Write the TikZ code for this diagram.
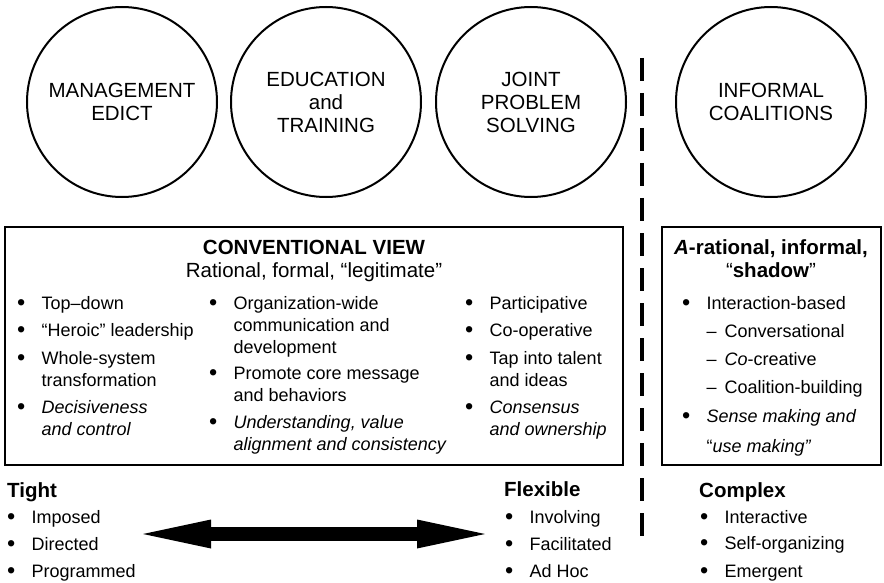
\documentclass[tikz,border=0pt]{standalone}
\usepackage{fontspec}
\setmainfont{Liberation Sans}
\usetikzlibrary{arrows.meta}

\newcommand{\bodyfont}{\fontsize{18}{22}\selectfont}
\newcommand{\headfont}{\fontsize{20.5}{23}\selectfont}
\newcommand{\bul}{\raisebox{-1.2pt}{\scalebox{1.3}{\textbullet}}}
\newcommand{\subdash}{\makebox[18pt][l]{--}}
% bullet list: bullet column + text column
\newenvironment{blist}{\begin{tabular}[t]{@{}p{24.5pt}@{}l@{}}}{\end{tabular}}

\begin{document}
\begin{tikzpicture}
[x=1pt, y=-1pt,
  circ/.style={circle, draw, line width=2pt, minimum size=190pt, inner sep=0pt, align=center, font=\headfont},
  frame/.style={draw, line width=1.3pt, inner sep=0pt},
  head/.style={anchor=base, inner sep=0pt, font=\headfont\bfseries},
  sub/.style={anchor=base, inner sep=0pt, font=\headfont},
  lst/.style={anchor=base west, inner sep=0pt, font=\bodyfont},
  lhead/.style={anchor=base west, inner sep=0pt, font=\headfont\bfseries},
  sep/.style={line width=4.5pt, dash pattern=on 23pt off 12pt},
  twoway/.style={line width=14pt,
    {Triangle[length=68pt,width=29pt,line width=0pt]}-{Triangle[length=68pt,width=29pt,line width=0pt]}}]
  \useasboundingbox (0,0) rectangle (884,583);

  % approaches
  \node[circ] (edict) at (122,102) {MANAGEMENT\\EDICT};
  \node[circ] (educ) at (326,102) {EDUCATION\\and\\TRAINING};
  \node[circ] (joint) at (531,102) {JOINT\\PROBLEM\\SOLVING};
  \node[circ] (coal) at (771,102) {INFORMAL\\COALITIONS};

  % divider
  \coordinate (sepTop) at (642,58);
  \coordinate (sepBot) at (642,540);
  \draw[sep] (sepTop) -- (sepBot);

  % conventional view
  \node[frame, minimum width=618pt, minimum height=238pt] (conv) at (314,346) {};
  \node[head] (convT) at (314,254) {CONVENTIONAL VIEW};
  \node[sub] (convS) at (314,277) {Rational, formal, “legitimate”};
  \node[lst] (colA) at (17,309) {\begin{blist}
    \bul & Top--down\\[5.5pt]
    \bul & “Heroic” leadership\\[5.5pt]
    \bul & Whole-system\\
         & transformation\\[5.5pt]
    \bul & \textit{Decisiveness}\\
         & \textit{and control}
  \end{blist}};
  \node[lst] (colB) at (209,309) {\begin{blist}
    \bul & Organization-wide\\
         & communication and\\
         & development\\[4pt]
    \bul & Promote core message\\
         & and behaviors\\[5.5pt]
    \bul & \textit{Understanding, value}\\
         & \textit{alignment and consistency}
  \end{blist}};
  \node[lst] (colC) at (465,309) {\begin{blist}
    \bul & Participative\\[5.5pt]
    \bul & Co-operative\\[5.5pt]
    \bul & Tap into talent\\
         & and ideas\\[5.5pt]
    \bul & \textit{Consensus}\\
         & \textit{and ownership}
  \end{blist}};

  % shadow view
  \node[frame, minimum width=219pt, minimum height=238pt] (shad) at (771.5,346) {};
  \node[head] (shadT) at (771,254) {\textit{A}-rational, informal,};
  \node[sub] (shadS) at (771,277) {“\textbf{shadow}”};
  \node[lst] (colD) at (682,309) {\begin{blist}
    \bul & Interaction-based\\[6pt]
         & \subdash Conversational\\[6pt]
         & \subdash\textit{Co}-creative\\[6.5pt]
         & \subdash Coalition-building\\[7pt]
    \bul & \textit{Sense making and}\\[8pt]
         & “\textit{use making”}
  \end{blist}};

  % spectrum
  \node[lhead] (tight) at (7,497) {Tight};
  \node[lst] (tightL) at (7,523) {\begin{blist}
    \bul & Imposed\\[5pt]
    \bul & Directed\\[5.5pt]
    \bul & Programmed
  \end{blist}};
  \node[lhead] (flex) at (504,496) {Flexible};
  \node[lst] (flexL) at (505,523) {\begin{blist}
    \bul & Involving\\[5pt]
    \bul & Facilitated\\[5.5pt]
    \bul & Ad Hoc
  \end{blist}};
  \node[lhead] (cplx) at (699,497) {Complex};
  \node[lst] (cplxL) at (700,523) {\begin{blist}
    \bul & Interactive\\[4.5pt]
    \bul & Self-organizing\\[6pt]
    \bul & Emergent
  \end{blist}};

  \coordinate (lEnd) at (143,534);
  \coordinate (rEnd) at (485,534);
  \draw[twoway] (lEnd) -- (rEnd);
\end{tikzpicture}
\end{document}
